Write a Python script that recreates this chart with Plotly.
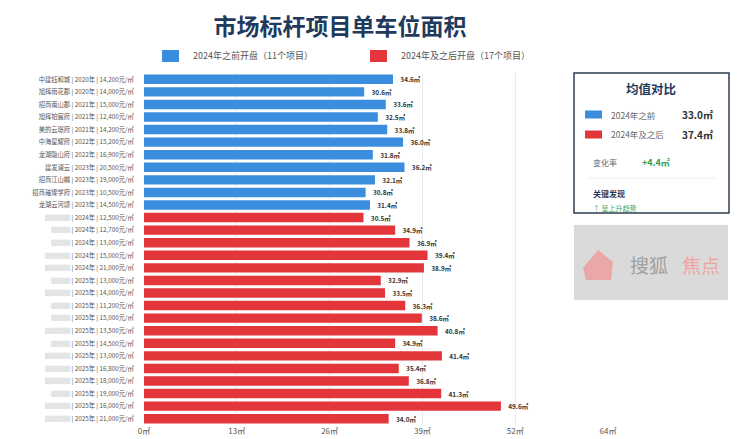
import plotly.graph_objects as go

# ---- data ----
names_before = ["中建钰和城", "旭辉雨花郡", "招商南山郡", "旭辉铂宸府", "美的云璟府", "中海星耀府",
                "龙湖隐山府", "建发澜云", "招商江山樾", "招商璀璨学府", "龙湖云河颂"]
years_before = ["2020", "2020", "2021", "2021", "2021", "2022", "2022", "2023", "2023", "2023", "2023"]
prices_before = ["14,200", "14,000", "15,000", "12,400", "14,200", "15,200", "16,900", "20,500",
                 "19,000", "10,500", "14,500"]
area_before = [34.6, 30.6, 33.6, 32.5, 33.8, 36.0, 31.8, 36.2, 32.1, 30.8, 31.4]

# names of the later projects are mosaicked in the source
years_after = ["2024"] * 5 + ["2025"] * 12
prices_after = ["12,500", "12,700", "13,000", "15,000", "21,000", "13,000", "14,000", "11,200",
                "15,000", "13,500", "14,500", "13,000", "16,800", "18,000", "19,000", "16,000", "21,000"]
area_after = [30.5, 34.9, 36.9, 39.4, 38.9, 32.9, 33.5, 36.3, 38.6, 40.8, 34.9, 41.4, 35.4, 36.8,
              41.3, 49.6, 34.0]
blur_len = [4, 3, 3, 4, 4, 3, 4, 3, 3, 4, 3, 4, 4, 4, 3, 4, 4]

mean_before = 33.0
mean_after = 37.4

BLUE = "#3b8ede"
RED = "#e2363b"
FONT = "Noto Sans CJK SC"

W, H = 740, 439
OFF = 8  # page body margin shifts the figure by 8px
ML, MR, MT, MB = 144 - OFF, 132 + OFF, 73 - OFF, 14 + OFF


def fx(px):
    return (px - OFF - ML) / (W - ML - MR)


def fy(py):
    return (H - MB - (py - OFF)) / (H - MT - MB)


labels = [f"{n} | {y}年 | {p}元/㎡" for n, y, p in zip(names_before, years_before, prices_before)]
labels += [f"<span style='color:#e4e4e4'>{'█' * b}</span> | {y}年 | {p}元/㎡"
           for b, y, p in zip(blur_len, years_after, prices_after)]
values = area_before + area_after
colors = [BLUE] * len(area_before) + [RED] * len(area_after)

fig = go.Figure(go.Bar(
    y=labels, x=values, orientation="h",
    marker=dict(color=colors, line=dict(width=0)),
    text=[f"<b>{v:.1f}㎡</b>" for v in values],
    texttemplate="   %{text}",
    textposition="outside",
    textfont=dict(size=7.5, color="#333", family=FONT),
    cliponaxis=False,
    showlegend=False,
))

xmax = max(values) * 1.3
step = xmax / 5
tickvals = [step * i for i in range(6)]
ticktext = [f"{round(v):d}㎡" for v in tickvals]

fig.update_xaxes(range=[0, xmax], tickvals=tickvals, ticktext=ticktext, showgrid=True,
                 gridcolor="#e9e9e9", gridwidth=1, zeroline=False, showline=False, automargin=False,
                 tickfont=dict(size=8, color="#555", family=FONT))
fig.update_yaxes(autorange="reversed", ticks="outside", ticklen=8, tickcolor="rgba(0,0,0,0)",
                 automargin=False, tickfont=dict(size=6.3, color="#555", family=FONT), showgrid=False)

fig.update_layout(
    width=W, height=H,
    margin=dict(l=ML, r=MR, t=MT, b=MB),
    bargap=0.25,
    paper_bgcolor="white", plot_bgcolor="white",
    font=dict(family=FONT),
    title=dict(text="<b>市场标杆项目单车位面积</b>", x=(340 - OFF) / W, xanchor="center",
               y=1 - (27 - OFF) / H, yanchor="middle", yref="container", automargin=False,
               font=dict(size=23, color="#1f3a5c", family=FONT)),
)

shapes = []
ann = []

# legend
for x0, col, txt in [(162, BLUE, "2024年之前开盘（11个项目）"), (370, RED, "2024年及之后开盘（17个项目）")]:
    shapes.append(dict(type="rect", xref="paper", yref="paper", x0=fx(x0), x1=fx(x0 + 17),
                       y0=fy(62), y1=fy(50), fillcolor=col, line=dict(width=0)))
    ann.append(dict(xref="paper", yref="paper", x=fx(x0 + 29), y=fy(56), text=txt, showarrow=False,
                    xanchor="left", yanchor="middle", font=dict(size=9, color="#555")))

# mean comparison panel
shapes.append(dict(type="rect", xref="paper", yref="paper", x0=fx(574), x1=fx(729), y0=fy(213), y1=fy(73),
                   fillcolor="white", line=dict(color="#2c3e50", width=1.5), layer="above"))
ann.append(dict(xref="paper", yref="paper", x=fx(651), y=fy(88), text="<b>均值对比</b>", showarrow=False,
                xanchor="center", yanchor="middle", font=dict(size=12.5, color="#1f3a5c")))
for yc, col, txt, val in [(114.5, BLUE, "2024年之前", mean_before), (134.5, RED, "2024年及之后", mean_after)]:
    shapes.append(dict(type="rect", xref="paper", yref="paper", x0=fx(585), x1=fx(602),
                       y0=fy(yc + 4), y1=fy(yc - 4), fillcolor=col, line=dict(width=0), layer="above"))
    ann.append(dict(xref="paper", yref="paper", x=fx(609), y=fy(yc), text=txt, showarrow=False,
                    xanchor="left", yanchor="middle", font=dict(size=8.5, color="#666")))
    ann.append(dict(xref="paper", yref="paper", x=fx(680), y=fy(yc), text=f"<b>{val:.1f}㎡</b>",
                    showarrow=False, xanchor="left", yanchor="middle", font=dict(size=10, color="#333")))
ann.append(dict(xref="paper", yref="paper", x=fx(591), y=fy(162), text="变化率", showarrow=False,
                xanchor="left", yanchor="middle", font=dict(size=8, color="#666")))
ann.append(dict(xref="paper", yref="paper", x=fx(640), y=fy(162), text=f"<b>+{mean_after - mean_before:.1f}㎡</b>",
                showarrow=False, xanchor="left", yanchor="middle", font=dict(size=9, color="#2e9e5b")))
shapes.append(dict(type="line", xref="paper", yref="paper", x0=fx(588), x1=fx(716), y0=fy(178), y1=fy(178),
                   line=dict(color="#eeeeee", width=1), layer="above"))
ann.append(dict(xref="paper", yref="paper", x=fx(591), y=fy(193), text="<b>关键发现</b>", showarrow=False,
                xanchor="left", yanchor="middle", font=dict(size=8, color="#1f3a5c")))
ann.append(dict(xref="paper", yref="paper", x=fx(591), y=fy(208), text="↑ 呈上升趋势", showarrow=False,
                xanchor="left", yanchor="middle", font=dict(size=7, color="#3aa866")))

# watermark overlay of the source image
shapes.append(dict(type="rect", xref="paper", yref="paper", x0=fx(574), x1=fx(728), y0=fy(300), y1=fy(225),
                   fillcolor="#d6d6d6", opacity=0.9, line=dict(width=0), layer="above"))
shapes.append(dict(type="path", xref="paper", yref="paper",
                   path=f"M {fx(583)},{fy(268)} L {fx(598)},{fy(250)} L {fx(613)},{fy(262)} "
                        f"L {fx(611)},{fy(280)} L {fx(586)},{fy(280)} Z",
                   fillcolor="#ee9a9a", opacity=0.8, line=dict(width=0), layer="above"))
ann.append(dict(xref="paper", yref="paper", x=fx(628), y=fy(264), text="搜狐", showarrow=False,
                xanchor="left", yanchor="middle", font=dict(size=19, color="#a0a0a0")))
ann.append(dict(xref="paper", yref="paper", x=fx(680), y=fy(264), text="焦点", showarrow=False,
                xanchor="left", yanchor="middle", font=dict(size=19, color="#efa3a3")))

fig.update_layout(shapes=shapes, annotations=ann)

fig.write_html("out.html")
